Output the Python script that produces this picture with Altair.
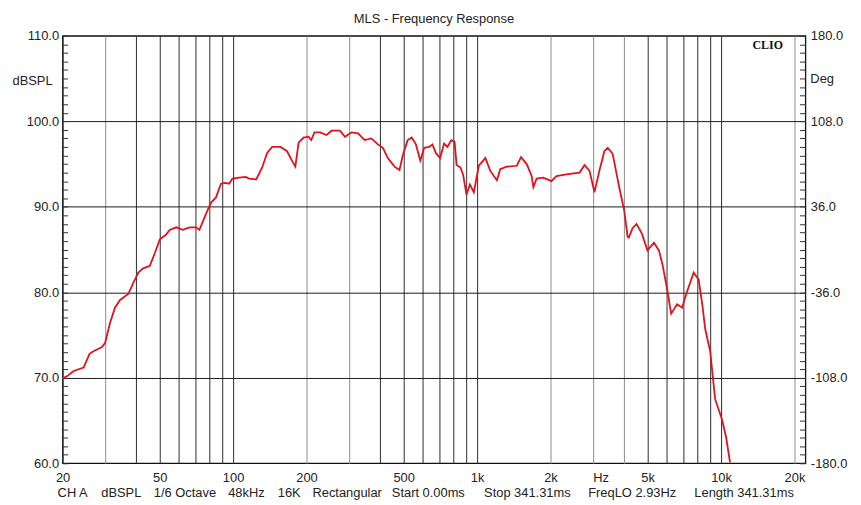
import altair as alt
import pandas as pd

# Frequency response (Hz, dBSPL)
freq_hz = [20.0, 20.9, 22.2, 24.4, 25.8, 26.8, 29.0, 29.9, 31.3, 32.8, 34.4, 37.2, 39.0, 40.9, 42.8,
           45.6, 47.8, 50.1, 52.9, 55.0, 58.5, 62.2, 66.3, 70.6, 72.8, 77.5, 81.2, 85.1, 89.2, 92.8,
           96.4, 99.4, 105.8, 112.7, 116.2, 124.4, 131.6, 137.9, 144.6, 156.4, 166.4, 174.3, 180.0,
           185.6, 194.5, 203.8, 209.0, 215.6, 227.4, 241.8, 253.4, 274.2, 287.4, 305.6, 325.4, 346.4,
           368.4, 392.4, 411.2, 430.8, 458.8, 480.8, 496.0, 519.6, 539.4, 561.6, 585.2, 607.6, 636.6,
           656.6, 677.2, 705.8, 732.6, 755.6, 784.4, 809.0, 824.2, 855.8, 877.6, 905.2, 934.4, 970.2,
           1016.6, 1081.6, 1133.2, 1206.4, 1244.2, 1324.6, 1454.8, 1514.6, 1597.4, 1674.2, 1701.2,
           1754.6, 1867.8, 2018.0, 2116.0, 2322.0, 2632.0, 2758.0, 2890.0, 3028.0, 3172.0, 3324.0,
           3432.0, 3596.0, 3824.0, 4008.0, 4140.0, 4190.0, 4338.0, 4504.0, 4732.0, 4992.0, 5310.0,
           5564.0, 5760.0, 6018.0, 6246.0, 6608.0, 6924.0, 7258.0, 7722.0, 8092.0, 8376.0, 8614.0,
           9026.0, 9460.0, 10070.0, 10484.0, 10886.0]
spl_db = [69.9, 70.2, 70.8, 71.2, 72.8, 73.1, 73.6, 74.1, 76.4, 78.2, 79.1, 79.8, 81.1, 82.3, 82.8,
          83.1, 84.6, 86.2, 86.7, 87.3, 87.6, 87.3, 87.6, 87.6, 87.3, 89.2, 90.5, 91.1, 92.7, 92.8,
          92.7, 93.3, 93.4, 93.5, 93.3, 93.2, 94.6, 96.3, 97.0, 97.0, 96.5, 95.4, 94.7,
          97.5, 98.1, 98.2, 97.8, 98.7, 98.7, 98.4, 98.9, 98.9, 98.2, 98.7, 98.6, 97.8,
          98.0, 97.3, 96.9, 95.7, 94.7, 94.3, 96.0, 97.8, 98.1, 97.3, 95.4, 96.9, 97.0,
          97.3, 96.3, 95.7, 97.4, 97.0, 97.8, 97.6, 94.9, 94.6, 93.7, 91.4, 92.6, 91.7,
          94.8, 95.7, 94.2, 93.1, 94.4, 94.7, 94.8, 95.8, 95.0, 93.6, 92.3,
          93.3, 93.4, 93.0, 93.6, 93.8, 94.0, 94.9, 94.2, 91.7, 94.2, 96.5,
          96.9, 96.2, 92.3, 89.6, 86.5, 86.4, 87.5, 88.0, 86.9, 84.9, 85.8,
          84.9, 83.2, 80.3, 77.5, 78.6, 78.2, 80.1, 82.3, 81.5, 78.6, 75.7,
          73.1, 67.5, 65.2, 63.1, 60.1]

x_grid_values = [20, 30, 40, 50, 60, 70, 80, 90, 100, 200, 300, 400, 500, 600, 700, 800, 900,
                 1000, 2000, 3000, 4000, 5000, 6000, 7000, 8000, 9000, 10000, 20000]
x_label_values = [20, 50, 100, 200, 500, 1000, 2000, 5000, 10000, 20000]
light_grid_values = [30, 200, 300, 2000, 3000, 4000, 20000]
y_tick_values = list(range(60, 111))

title_text = "MLS - Frequency Response"
footer_items = ["CH A", "dBSPL", "1/6 Octave", "48kHz", "16K", "Rectangular", "Start 0.00ms",
                "Stop 341.31ms", "FreqLO 2.93Hz", "Length 341.31ms"]
# layout: left edge of each footer item, px from the plot's left edge
footer_left_px = [-5, 39, 92, 167, 217, 252, 332, 425, 530, 637]

df = pd.DataFrame({"freq": freq_hz, "spl": spl_db})

FONT = "Liberation Sans"
TXT = "#222222"

xscale = alt.Scale(type="log", domain=[20, 22170], nice=False)
yscale = alt.Scale(domain=[60, 110], nice=False, zero=False)

x_label_js = "[" + ",".join(str(v) for v in x_label_values) + "]"
light_js = "[" + ",".join(str(v) for v in light_grid_values) + "]"

xaxis = alt.Axis(
    values=x_grid_values, title=None, grid=True, domain=False, ticks=False,
    gridColor={"condition": {"test": f"indexof({light_js}, datum.value) >= 0", "value": "#8c8c8c"},
               "value": "#2a2a2a"},
    gridWidth=1,
    labelExpr=f"indexof({x_label_js}, datum.value) >= 0 ? (datum.value >= 1000 ? (datum.value/1000) + 'k' : '' + datum.value) : ''",
    labelFlush=False, labelOverlap=False, labelPadding=8, labelFont=FONT, labelFontSize=13,
    labelColor=TXT,
)

left_axis = alt.Axis(
    orient="left", values=y_tick_values, title=None, offset=-5, tickSize=5, tickColor="#333",
    domain=False, grid=True, gridColor="#1a1a1a",
    gridOpacity={"condition": {"test": "datum.value % 10 == 0 && datum.value > 60 && datum.value < 110",
                               "value": 1}, "value": 0},
    labelExpr="datum.value % 10 == 0 ? format(datum.value, '.1f') : ''",
    labelOverlap=False, labelPadding=4, labelFont=FONT, labelFontSize=13, labelColor=TXT,
)

right_axis = alt.Axis(
    orient="right", values=y_tick_values, title=None, offset=-6, tickSize=6, tickColor="#333",
    domain=False, grid=False,
    labelExpr="datum.value % 10 == 0 ? ((((datum.value-60)*7.2-180) < 0 ? '-' : '') + format(abs((datum.value-60)*7.2-180), '.1f')) : ''",
    labelOverlap=False, labelPadding=5, labelFont=FONT, labelFontSize=13, labelColor=TXT,
)

response = alt.Chart(df).mark_line(color="#e0121b", strokeWidth=1.8).encode(
    x=alt.X("freq:Q", scale=xscale, axis=xaxis),
    y=alt.Y("spl:Q", scale=yscale, axis=left_axis),
)

phase_axis = alt.Chart(df).mark_line(opacity=0).encode(
    x=alt.X("freq:Q", scale=xscale, axis=xaxis),
    y=alt.Y("spl:Q", scale=yscale, axis=right_axis),
)


def label(text, x, y, align="left", **kw):
    return alt.Chart(pd.DataFrame({"t": [text]})).mark_text(
        align=align, baseline="middle", font=kw.pop("font", FONT),
        fontSize=kw.pop("fontSize", 13), color=kw.pop("color", TXT), **kw
    ).encode(x=alt.value(x), y=alt.value(y), text="t:N")


title_lbl = label(title_text, 374.5, -17, align="center")
dbspl_lbl = label("dBSPL", -10, 46, align="right")
deg_lbl = label("Deg", 754, 44)
hz_lbl = label("Hz", 543, 446, align="center")
clio_lbl = label("CLIO", 711, 9, align="center", font="Liberation Serif", fontSize=12,
                 fontWeight="bold", color="#111")
footer_layers = [label(t, px, 461) for t, px in zip(footer_items, footer_left_px)]

chart = alt.layer(
    response, phase_axis, title_lbl, dbspl_lbl, deg_lbl, hz_lbl, clio_lbl, *footer_layers
).resolve_scale(y="independent").properties(
    width=749, height=431,
    autosize=alt.AutoSizeParams(type="none"),
    padding={"left": 55, "top": 26, "right": 48, "bottom": 38},
    background="white",
).configure_view(stroke="#111", strokeWidth=1.3)

chart.save("out.html", embed_options={"renderer": "svg", "actions": False})
